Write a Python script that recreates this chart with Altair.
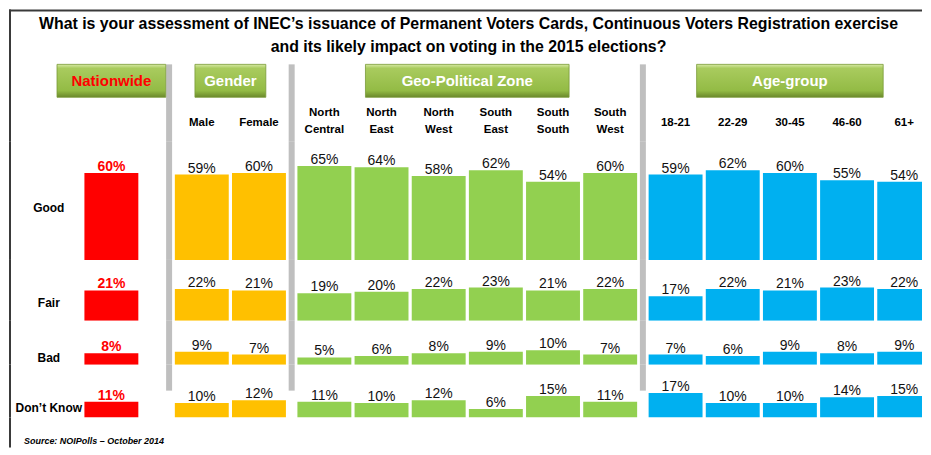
import altair as alt
import pandas as pd

# ---------------- data ----------------
title_lines = [
    "What  is your assessment of INEC\u2019s issuance of Permanent Voters Cards, Continuous Voters Registration exercise",
    "and its likely impact on voting in the 2015 elections?",
]
groups = ["Nationwide", "Gender", "Geo-Political Zone", "Age-group"]
group_colors = ["#FF0000", "#FFC000", "#92D050", "#00B0F0"]
columns = ["Nationwide", "Male", "Female", "North Central", "North East", "North West",
           "South East", "South South", "South West", "18-21", "22-29", "30-45", "46-60", "61+"]
column_groups = ["Nationwide", "Gender", "Gender",
                 "Geo-Political Zone", "Geo-Political Zone", "Geo-Political Zone",
                 "Geo-Political Zone", "Geo-Political Zone", "Geo-Political Zone",
                 "Age-group", "Age-group", "Age-group", "Age-group", "Age-group"]
responses = ["Good", "Fair", "Bad", "Don\u2019t Know"]
good = [60, 59, 60, 65, 64, 58, 62, 54, 60, 59, 62, 60, 55, 54]
fair = [21, 22, 21, 19, 20, 22, 23, 21, 22, 17, 22, 21, 23, 22]
bad = [8, 9, 7, 5, 6, 8, 9, 10, 7, 7, 6, 9, 8, 9]
dont_know = [11, 10, 12, 11, 10, 12, 6, 15, 11, 17, 10, 10, 14, 15]
source_text = "Source: NOIPolls \u2013 October 2014"

# ---------------- layout ----------------
W = 915
UNIT = 57.0
X_MAX = W / UNIT
PX_PER_PCT = 1.45
ROW_H = [119, 61, 44, 53]
HEAD_H = 132
SRC_H = 30
BAR_HALF = 0.474
FONT = "Liberation Sans"
SEP_COLOR = "#BFBFBF"
FRAME_COLOR = "#3A3A3A"

# column positions in slot units (within group step, gaps between groups)
pos = []
p = 1.8
for i, g in enumerate(column_groups):
    if i > 0:
        if g == column_groups[i - 1]:
            p += 1.005
        elif column_groups[i - 1] == "Nationwide":
            p += 1.59
        else:
            p += 1.15
    pos.append(p)

cols_df = pd.DataFrame({"column": columns, "group": column_groups, "pos": pos})
cols_df["display"] = [c.replace(" ", "\n") if g == "Geo-Political Zone" else c
                      for c, g in zip(columns, column_groups)]

sep_df = pd.DataFrame({
    "sep": [cols_df[cols_df.group == g].pos.min() - 0.575 for g in groups[1:]]
})

box_half = {"Nationwide": 0.956, "Gender": 0.623, "Geo-Political Zone": 1.79, "Age-group": 1.64}
box_rows = []
for g in groups:
    sub = cols_df[cols_df.group == g]
    c = (sub.pos.min() + sub.pos.max()) / 2
    box_rows.append({"group": g, "center": c, "x_lo": c - box_half[g], "x_hi": c + box_half[g],
                     "tcolor": "#FF0000" if g == "Nationwide" else "#FFFFFF"})
box_df = pd.DataFrame(box_rows)

x_scale = alt.Scale(domain=[0, X_MAX], nice=False, zero=False)
color_scale = alt.Scale(domain=groups, range=group_colors)

green_grad = alt.Gradient(
    gradient="linear", x1=0, x2=0, y1=0, y2=1,
    stops=[alt.GradientStop(color="#D6E9A4", offset=0),
           alt.GradientStop(color="#A9CB5E", offset=0.12),
           alt.GradientStop(color="#93BB45", offset=0.8),
           alt.GradientStop(color="#6A882B", offset=1)],
)


def left_frame(h):
    return alt.Chart(pd.DataFrame({"a": [0]})).mark_rule(
        color=FRAME_COLOR, strokeWidth=2).encode(
        x=alt.value(1), y=alt.value(0), y2=alt.value(h))


# ---------------- header row ----------------
title_chart = alt.Chart(pd.DataFrame({"t": ["\n".join(title_lines)]})).mark_text(
    font=FONT, fontSize=15.9, fontWeight="bold", lineBreak="\n", lineHeight=23,
    baseline="middle", align="center", color="#000000").encode(
    x=alt.value(W / 2 + 3), y=alt.value(15), text="t:N")

top_frame = alt.Chart(pd.DataFrame({"a": [0]})).mark_rule(
    color=FRAME_COLOR, strokeWidth=2).encode(
    x=alt.value(0), x2=alt.value(W), y=alt.value(1))

head_sep = alt.Chart(sep_df).mark_rule(color=SEP_COLOR, strokeWidth=6).encode(
    x=alt.X("sep:Q", scale=x_scale, axis=None), y=alt.value(55), y2=alt.value(HEAD_H))

boxes = alt.Chart(box_df).mark_rect(fill=green_grad, stroke="#7A9A38", strokeWidth=0.8).encode(
    x=alt.X("x_lo:Q", scale=x_scale, axis=None), x2="x_hi:Q",
    y=alt.value(55), y2=alt.value(88))

box_text = alt.Chart(box_df).mark_text(
    font=FONT, fontSize=15, fontWeight="bold", baseline="middle", align="center").encode(
    x=alt.X("center:Q", scale=x_scale, axis=None), y=alt.value(72),
    text="group:N", color=alt.Color("tcolor:N", scale=None))

geo_labels = alt.Chart(cols_df[cols_df.group == "Geo-Political Zone"]).mark_text(
    font=FONT, fontSize=11.5, fontWeight="bold", lineBreak="\n", lineHeight=17,
    baseline="middle", align="center", color="#000000").encode(
    x=alt.X("pos:Q", scale=x_scale, axis=None), y=alt.value(104), text="display:N")

one_line_labels = alt.Chart(
    cols_df[cols_df.group.isin(["Gender", "Age-group"])]).mark_text(
    font=FONT, fontSize=11.5, fontWeight="bold",
    baseline="middle", align="center", color="#000000").encode(
    x=alt.X("pos:Q", scale=x_scale, axis=None), y=alt.value(114), text="display:N")

header = alt.layer(head_sep, boxes, box_text, geo_labels, one_line_labels, title_chart,
                   top_frame, left_frame(HEAD_H)).properties(width=W, height=HEAD_H)


# ---------------- bar rows ----------------
def bar_row(resp, values, h, sep_bottom=None):
    df = cols_df.copy()
    df["value"] = values
    df["label"] = [f"{v}%" for v in values]
    df["x_lo"] = df.pos - BAR_HALF
    df["x_hi"] = df.pos + BAR_HALF
    y_scale = alt.Scale(domain=[0, h / PX_PER_PCT], nice=False, zero=True)

    bars = alt.Chart(df).mark_rect(clip=True).encode(
        x=alt.X("x_lo:Q", scale=x_scale, axis=None), x2="x_hi:Q",
        y=alt.Y("value:Q", scale=y_scale, axis=None), y2=alt.datum(0),
        color=alt.Color("group:N", scale=color_scale, legend=None))

    nat_lab = alt.Chart(df[df.group == "Nationwide"]).mark_text(
        font=FONT, fontSize=14, fontWeight="bold", color="#FF0000",
        baseline="alphabetic", dy=-2, align="center").encode(
        x=alt.X("pos:Q", scale=x_scale, axis=None),
        y=alt.Y("value:Q", scale=y_scale, axis=None), text="label:N")

    oth_lab = alt.Chart(df[df.group != "Nationwide"]).mark_text(
        font=FONT, fontSize=14, color="#111111",
        baseline="alphabetic", dy=-2, align="center").encode(
        x=alt.X("pos:Q", scale=x_scale, axis=None),
        y=alt.Y("value:Q", scale=y_scale, axis=None), text="label:N")

    nat_val = values[columns.index("Nationwide")]
    rl_df = pd.DataFrame({"resp": [resp], "ly": [nat_val * 0.6], "lx": [0.70]})
    row_lab = alt.Chart(rl_df).mark_text(
        font=FONT, fontSize=12, fontWeight="bold", color="#000000",
        baseline="middle", align="center").encode(
        x=alt.X("lx:Q", scale=x_scale, axis=None),
        y=alt.Y("ly:Q", scale=y_scale, axis=None), text="resp:N")

    bottom = h if sep_bottom is None else sep_bottom
    seps = alt.Chart(sep_df).mark_rule(color=SEP_COLOR, strokeWidth=6).encode(
        x=alt.X("sep:Q", scale=x_scale, axis=None), y=alt.value(0), y2=alt.value(bottom))

    return alt.layer(seps, bars, nat_lab, oth_lab, row_lab, left_frame(h)).properties(
        width=W, height=h)


row_good = bar_row(responses[0], good, ROW_H[0])
row_fair = bar_row(responses[1], fair, ROW_H[1])
row_bad = bar_row(responses[2], bad, ROW_H[2])
row_dk = bar_row(responses[3], dont_know, ROW_H[3], sep_bottom=26)

# ---------------- source row ----------------
src = alt.Chart(pd.DataFrame({"s": [source_text]})).mark_text(
    font=FONT, fontSize=9, fontWeight="bold", fontStyle="italic", color="#000000",
    align="left", baseline="middle").encode(
    x=alt.value(15), y=alt.value(23), text="s:N")
src_row = alt.layer(src, left_frame(SRC_H)).properties(width=W, height=SRC_H)

chart = alt.vconcat(header, row_good, row_fair, row_bad, row_dk, src_row, spacing=0).properties(
    padding=0, background="#FFFFFF", bounds="flush"
).configure_view(stroke=None)

chart.save("out.html", embed_options={"renderer": "svg", "actions": False})
